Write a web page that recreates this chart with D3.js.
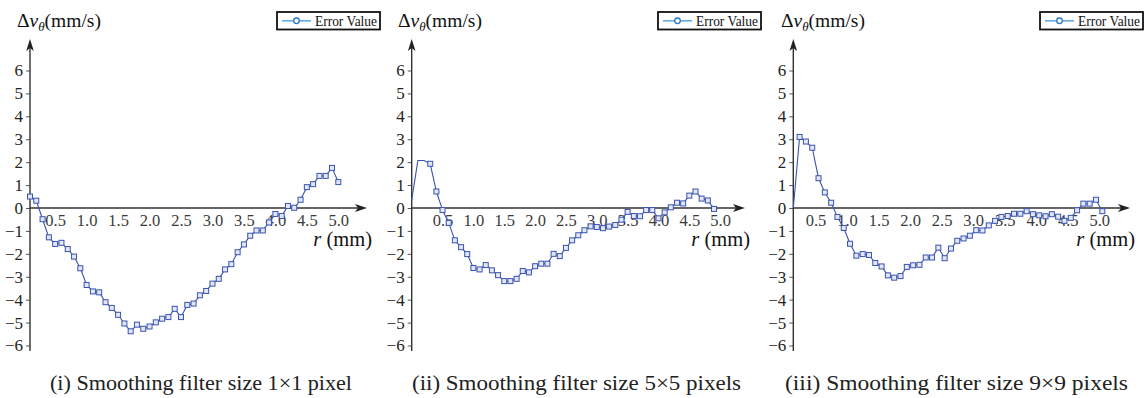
<!DOCTYPE html>
<html>
<head>
<meta charset="utf-8">
<script src="https://cdn.jsdelivr.net/npm/d3@7/dist/d3.min.js"></script>
<style>
  html, body { margin: 0; padding: 0; background: #fff; }
  svg { display: block; }
  text { font-family: "Liberation Serif", "Times New Roman", Times, serif; }
</style>
</head>
<body>
<svg id="chart" width="1146" height="398"></svg>
<script>
// Radial positions (mm) of the sampled points
const radiusA = [0.1, 0.2, 0.3, 0.4, 0.5, 0.6, 0.7, 0.8, 0.9, 1.0,
                 1.1, 1.2, 1.3, 1.4, 1.5, 1.6, 1.7, 1.8, 1.9, 2.0,
                 2.1, 2.2, 2.3, 2.4, 2.5, 2.6, 2.7, 2.8, 2.9, 3.0,
                 3.1, 3.2, 3.3, 3.4, 3.5, 3.6, 3.7, 3.8, 3.9, 4.0,
                 4.1, 4.2, 4.3, 4.4, 4.5, 4.6, 4.7, 4.8, 4.9, 5.0];
const radiusB = [0.0, 0.1, 0.2, 0.3, 0.4, 0.5, 0.6, 0.7, 0.8, 0.9,
                 1.0, 1.1, 1.2, 1.3, 1.4, 1.5, 1.6, 1.7, 1.8, 1.9,
                 2.0, 2.1, 2.2, 2.3, 2.4, 2.5, 2.6, 2.7, 2.8, 2.9,
                 3.0, 3.1, 3.2, 3.3, 3.4, 3.5, 3.6, 3.7, 3.8, 3.9,
                 4.0, 4.1, 4.2, 4.3, 4.4, 4.5, 4.6, 4.7, 4.8, 4.9];

// Velocity error Δvθ (mm/s) for each smoothing filter size
const errorFilter1 = [0.50, 0.32, -0.49, -1.28, -1.57, -1.52, -1.79, -2.12, -2.63, -3.36,
                      -3.64, -3.68, -4.11, -4.36, -4.66, -5.04, -5.38, -5.09, -5.27, -5.17,
                      -4.99, -4.83, -4.76, -4.40, -4.76, -4.23, -4.17, -3.81, -3.62, -3.30,
                      -3.09, -2.68, -2.45, -1.93, -1.59, -1.21, -0.98, -0.98, -0.63, -0.26,
                      -0.35, 0.09, 0.01, 0.36, 0.91, 1.04, 1.40, 1.40, 1.75, 1.13];
const errorFilter5 = [0.35, 2.07, 2.07, 1.93, 0.72, -0.09, -0.65, -1.41, -1.71, -2.01,
                      -2.62, -2.68, -2.49, -2.72, -2.93, -3.19, -3.19, -3.09, -2.75, -2.81,
                      -2.54, -2.43, -2.43, -2.00, -2.10, -1.74, -1.41, -1.19, -0.97, -0.80,
                      -0.83, -0.88, -0.81, -0.74, -0.51, -0.17, -0.35, -0.36, -0.09, -0.09,
                      -0.45, -0.19, 0.03, 0.23, 0.20, 0.54, 0.72, 0.41, 0.33, -0.04];
const errorFilter9 = [0.00, 3.10, 2.90, 2.63, 1.30, 0.68, 0.23, -0.39, -0.87, -1.56,
                      -2.08, -2.01, -2.05, -2.40, -2.55, -2.94, -3.04, -2.97, -2.57, -2.50,
                      -2.48, -2.16, -2.16, -1.73, -2.19, -1.77, -1.43, -1.33, -1.21, -0.97,
                      -0.98, -0.76, -0.56, -0.39, -0.35, -0.25, -0.25, -0.14, -0.27, -0.32,
                      -0.36, -0.27, -0.38, -0.56, -0.43, -0.10, 0.19, 0.19, 0.36, -0.14];

// Tick labels
const yTicks = [-6, -5, -4, -3, -2, -1, 0, 1, 2, 3, 4, 5, 6];
const xTicks = [0.5, 1.0, 1.5, 2.0, 2.5, 3.0, 3.5, 4.0, 4.5, 5.0];

const legendLabel = "Error Value";
const captions = [
  "(i) Smoothing filter size 1\u00d71 pixel",
  "(ii) Smoothing filter size 5\u00d75 pixels",
  "(iii) Smoothing filter size 9\u00d79 pixels"
];

// Panel layout
const panels = [
  { r: radiusA, v: errorFilter1, x0: 30.0, x1: 338.3, xEnd: 367, markFrom: 0,
    titleX: 17, legendX: 277, capX: 50, capW: 302, labelDx: 0 },
  { r: radiusB, v: errorFilter5, x0: 411.7, x1: 714.0, xEnd: 745, markFrom: 3,
    titleX: 398, legendX: 658, capX: 412, capW: 329, labelDx: 0 },
  { r: radiusA, v: errorFilter9, x0: 793.3, x1: 1102.3, xEnd: 1130, markFrom: 1,
    titleX: 781, legendX: 1040, capX: 785, capW: 343, labelDx: -3 }
];

const svg = d3.select("#chart");
const y = d3.scaleLinear().domain([-6, 6]).range([345.5, 70.5]);
const axisColor = "#333";
const lineColor = "#3a53b0";

panels.forEach((p, i) => {
  const g = svg.append("g");
  const x = d3.scaleLinear().domain([p.r[0], p.r[p.r.length - 1]]).range([p.x0, p.x1]);
  const yZero = y(0);

  // y axis with ticks
  const yAxis = g.append("g")
    .attr("transform", `translate(${p.x0},0)`)
    .call(d3.axisLeft(y).tickValues(yTicks).tickSize(4).tickPadding(3).tickFormat(d3.format("d")));
  yAxis.select(".domain").remove();
  yAxis.selectAll(".tick line").attr("stroke", "#555").attr("stroke-width", 1);
  yAxis.selectAll(".tick text").attr("font-size", 17).attr("fill", "#222");

  // x axis tick labels
  const xAxis = g.append("g")
    .attr("transform", `translate(0,${yZero})`)
    .call(d3.axisBottom(x).tickValues(xTicks).tickSize(0).tickPadding(6).tickFormat(d3.format(".1f")));
  xAxis.select(".domain").remove();
  xAxis.selectAll(".tick text").attr("font-size", 16.5).attr("fill", "#3a3a3a").attr("dx", p.labelDx);

  // axis lines with arrow heads
  g.append("line").attr("x1", p.x0).attr("x2", p.x0).attr("y1", 351).attr("y2", 46)
    .attr("stroke", axisColor).attr("stroke-width", 1.4);
  g.append("path")
    .attr("d", `M${p.x0},39 L${p.x0 + 3.8},51 L${p.x0},48 L${p.x0 - 3.8},51 Z`)
    .attr("fill", "#222");
  g.append("line").attr("x1", p.x0).attr("x2", p.xEnd - 6).attr("y1", yZero).attr("y2", yZero)
    .attr("stroke", axisColor).attr("stroke-width", 1.4);
  g.append("path")
    .attr("d", `M${p.xEnd},${yZero} L${p.xEnd - 12},${yZero - 4} L${p.xEnd - 9},${yZero} L${p.xEnd - 12},${yZero + 4} Z`)
    .attr("fill", "#222");

  // data line
  const pts = p.r.map((r, k) => ({ r, v: p.v[k], k }));
  g.append("path")
    .datum(pts)
    .attr("fill", "none")
    .attr("stroke", lineColor)
    .attr("stroke-width", 1.1)
    .attr("d", d3.line().x(d => x(d.r)).y(d => y(d.v)));

  // square markers
  g.selectAll("rect.mk")
    .data(pts.filter(d => d.k >= p.markFrom))
    .join("rect")
    .attr("class", "mk")
    .attr("x", d => x(d.r) - 2.5)
    .attr("y", d => y(d.v) - 2.5)
    .attr("width", 5)
    .attr("height", 5)
    .attr("fill", "#e2e7f7")
    .attr("stroke", lineColor)
    .attr("stroke-width", 1);

  // y axis title: Δvθ(mm/s)
  const t = g.append("text").attr("x", p.titleX).attr("y", 26.5).attr("font-size", 19.5).attr("fill", "#111");
  t.append("tspan").text("\u0394");
  t.append("tspan").attr("font-style", "italic").text("v");
  t.append("tspan").attr("font-style", "italic").attr("font-size", 13).attr("dy", 4).text("\u03b8");
  t.append("tspan").attr("dy", -4).text("(mm/s)");

  // x axis title: r (mm)
  const xt = g.append("text").attr("x", p.xEnd + 5).attr("y", 246).attr("text-anchor", "end")
    .attr("font-size", 20.5).attr("fill", "#111");
  xt.append("tspan").attr("font-style", "italic").text("r");
  xt.append("tspan").text(" (mm)");

  // legend
  const lg = g.append("g").attr("transform", `translate(${p.legendX},12)`);
  lg.append("rect").attr("x", 0).attr("y", 0).attr("width", 103).attr("height", 17.5)
    .attr("fill", "#fff").attr("stroke", "#111").attr("stroke-width", 1.8);
  lg.append("line").attr("x1", 5).attr("x2", 34).attr("y1", 8.8).attr("y2", 8.8)
    .attr("stroke", "#5aa6e0").attr("stroke-width", 1.5);
  lg.append("circle").attr("cx", 19.5).attr("cy", 8.8).attr("r", 2.8)
    .attr("fill", "#fff").attr("stroke", "#2a78c2").attr("stroke-width", 1.3);
  lg.append("text").attr("x", 38).attr("y", 13.8).attr("font-size", 14).attr("fill", "#111")
    .attr("textLength", 62).attr("lengthAdjust", "spacingAndGlyphs").text(legendLabel);

  // caption
  g.append("text").attr("x", p.capX).attr("y", 389.5).attr("font-size", 21).attr("fill", "#222")
    .attr("textLength", p.capW).attr("lengthAdjust", "spacingAndGlyphs").text(captions[i]);
});
</script>
</body>
</html>
